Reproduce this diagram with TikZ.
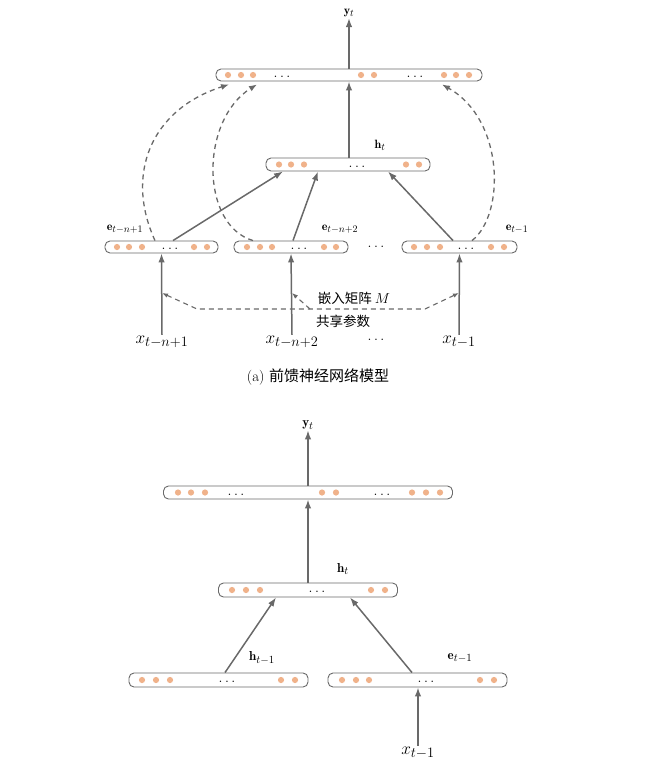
\documentclass[tikz,border=0pt]{standalone}
\usepackage{amsmath,amssymb}
\usepackage{bm}
\usepackage{fontspec}
\newfontfamily\cjk{Noto Sans CJK SC}
\usetikzlibrary{arrows.meta}

\DeclareMathSizes{12}{12}{10}{8}
\DeclareMathSizes{13}{13}{10.5}{8}
\DeclareMathSizes{13.5}{13.5}{10.5}{8}
\DeclareMathSizes{17.5}{17.5}{14}{10}
\DeclareMathSizes{18}{18}{14.5}{10}

\definecolor{linegray}{RGB}{105,105,105}
\definecolor{dotorange}{RGB}{240,178,138}

\tikzset{
  layer/.style={draw=linegray, line width=0.9pt, rounded corners=5pt, fill=white,
    minimum height=12pt, inner sep=0pt},
  conn/.style={draw=linegray, line width=1.5pt, -{Latex[length=9pt,width=6.5pt]}},
  share/.style={draw=linegray, line width=1.3pt, dash pattern=on 5pt off 4pt,
    -{Latex[length=8pt,width=6pt]}},
  embed/.style={draw=linegray, line width=1.1pt, dash pattern=on 5pt off 4pt},
  lbl/.style={inner sep=1pt, font=\fontsize{12}{14}\selectfont},
  biglbl/.style={inner sep=1pt, font=\fontsize{17.5}{20}\selectfont},
  dotsbox/.style={inner sep=0pt, anchor=base, font=\fontsize{14}{16}\selectfont}
}

\newcommand{\units}[2]{\foreach \ux in {#1} \fill[dotorange] (\ux,#2) circle (3.1pt);}

\begin{document}
\begin{tikzpicture}[x=1pt, y=-1pt]
    \useasboundingbox (0,0) rectangle (664,774);

    % (a) feed-forward model
    \node[layer, minimum width=266pt] (ytop) at (349,75) {};
    \node[layer, minimum width=164pt, minimum height=13pt] (hmid) at (348,164.5) {};
    \node[layer, minimum width=113pt] (e1) at (161.5,247) {};
    \node[layer, minimum width=114pt] (e2) at (291,247) {};
    \node[layer, minimum width=115pt] (e3) at (459.5,247) {};

    \units{228,241,253,361,374,444,456,469}{75}
    \units{279,291,304,406,419}{164.5}
    \units{117,129,142,194,207}{247}
    \units{247,260,272,324,336}{247}
    \units{414,427,440,491,504}{247}

    \node[dotsbox] at (282,77.5) {$\ldots$};
    \node[dotsbox] at (415,77.5) {$\ldots$};
    \node[dotsbox] at (357,167) {$\ldots$};
    \node[dotsbox] at (170,249.5) {$\ldots$};
    \node[dotsbox] at (299,249.5) {$\ldots$};
    \node[dotsbox] at (466,249.5) {$\ldots$};
    \node[dotsbox] at (376,247) {$\ldots$};

    \node[lbl] (yt) at (349,13) {$\mathbf{y}_t$};
    \node[lbl] (ht) at (380,145) {$\mathbf{h}_t$};
    \node[lbl] (le1) at (125,229) {$\mathbf{e}_{t-n+1}$};
    \node[lbl] (le2) at (340,229) {$\mathbf{e}_{t-n+2}$};
    \node[lbl] (le3) at (517,229) {$\mathbf{e}_{t-1}$};

    \node[biglbl] (x1) at (162,342) {$x_{t-n+1}$};
    \node[biglbl] (x2) at (292,342) {$x_{t-n+2}$};
    \node[biglbl] (x3) at (459,342) {$x_{t-1}$};
    \node[dotsbox] at (376,340) {$\ldots$};

    \draw[conn] (ytop.north) -- (yt.south);
    \draw[conn] (hmid.north -| ytop.north) -- (ytop.south);
    \draw[conn] ([xshift=11.5pt]e1.north) -- ([xshift=-65pt]hmid.south);
    \draw[conn] ([xshift=2pt]e2.north) -- ([xshift=-30pt]hmid.south);
    \draw[conn] ([xshift=-6.5pt]e3.north) -- ([xshift=40pt]hmid.south);
    \draw[conn] (x1.north) -- (e1.south);
    \draw[conn] (x2.north) -- (e2.south);
    \draw[conn] (x3.north) -- (e3.south);

    % dashed links from the embeddings straight to the output
    \draw[share] ([xshift=-6.5pt]e1.north) .. controls (125,175) and (150,110) .. ([xshift=-120pt,yshift=-3pt]ytop.south);
    \draw[share] ([xshift=-38pt]e2.north) .. controls (200,225) and (200,120) .. ([xshift=-92pt,yshift=-3pt]ytop.south);
    \draw[share] ([xshift=12.5pt]e3.north) .. controls (505,215) and (505,120) .. ([xshift=93pt,yshift=-3pt]ytop.south);

    % shared embedding matrix
    \coordinate (m1) at (162,293);
    \coordinate (m2) at (292,293);
    \coordinate (m3) at (459,293);
    \coordinate (mL) at (197,309);
    \coordinate (mR) at (425,309);
    \coordinate (mC) at (310,309);
    \draw[embed, {Latex[length=6pt,width=4.5pt]}-{Latex[length=6pt,width=4.5pt]}] (m1) -- (mL) -- (mR) -- (m3);
    \draw[embed, -{Latex[length=6pt,width=4.5pt]}] (mC) -- (m2);
    \node[inner sep=1pt, font=\fontsize{13.5}{15}\selectfont] (lemb) at (354,298) {\cjk 嵌入矩阵 \rmfamily $M$};
    \node[inner sep=1pt, font=\fontsize{13.5}{15}\selectfont] (lshr) at (343,321) {\cjk 共享参数};

    \node[inner sep=1pt, font=\fontsize{15}{17}\selectfont] (capa) at (318,377) {(a) {\cjk 前馈神经网络模型}};

    % (b) recurrent model
    \node[layer, minimum width=289pt, minimum height=13pt] (ytop2) at (308,492.5) {};
    \node[layer, minimum width=179pt, minimum height=14pt] (hmid2) at (308,590) {};
    \node[layer, minimum width=179pt, minimum height=14pt] (hprev) at (218.5,680) {};
    \node[layer, minimum width=179pt, minimum height=14pt] (eprev) at (417.5,680) {};

    \units{178,191,205,322,336,412,426,440}{492.5}
    \units{232,246,260,371,385}{590}
    \units{142,156,170,281,295}{680}
    \units{342,356,369,480,494}{680}

    \node[dotsbox] at (236,495) {$\ldots$};
    \node[dotsbox] at (382,495) {$\ldots$};
    \node[dotsbox] at (317,592.5) {$\ldots$};
    \node[dotsbox] at (227,682.5) {$\ldots$};
    \node[dotsbox] at (426,682.5) {$\ldots$};

    \node[lbl, font=\fontsize{13}{15}\selectfont] (yt2) at (308,425) {$\mathbf{y}_t$};
    \node[lbl, font=\fontsize{13}{15}\selectfont] (ht2) at (343,569) {$\mathbf{h}_t$};
    \node[lbl, font=\fontsize{13}{15}\selectfont] (lhp) at (262,658) {$\mathbf{h}_{t-1}$};
    \node[lbl, font=\fontsize{13}{15}\selectfont] (lep) at (460,658) {$\mathbf{e}_{t-1}$};
    \node[biglbl, font=\fontsize{18}{20}\selectfont] (xp) at (418,753) {$x_{t-1}$};

    \draw[conn] (ytop2.north) -- (yt2.south);
    \draw[conn] (hmid2.north) -- (ytop2.south);
    \draw[conn] ([xshift=6.5pt]hprev.north) -- ([xshift=-32pt]hmid2.south);
    \draw[conn] ([xshift=-5.5pt]eprev.north) -- ([xshift=42pt]hmid2.south);
    \draw[conn] (xp.north) -- ([xshift=0.5pt]eprev.south);
\end{tikzpicture}
\end{document}
